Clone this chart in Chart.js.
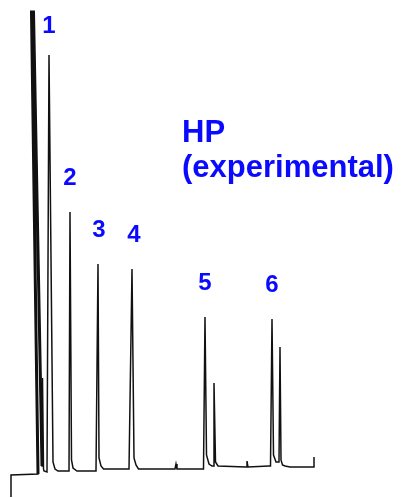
<!DOCTYPE html>
<html>
<head>
<meta charset="utf-8">
<script src="https://cdn.jsdelivr.net/npm/chart.js@4.4.1/dist/chart.umd.min.js"></script>
<style>
  html, body { margin:0; padding:0; background:#fff; }
  #wrap { position:relative; width:405px; height:498px; }
</style>
</head>
<body>
<div id="wrap"><canvas id="chrom"></canvas></div>
<script>
// Detector trace: retention time (min) and response (arb. units above baseline)
const traceTime = [
  1.1, 1.1, 3.8, 3.15, 3.35, 4.1, 4.2, 4.25, 4.35, 4.4, 4.7,
  4.8, 4.9, 5.3, 5.5, 5.8, 6.6, 6.9, 7.0, 7.15, 7.3, 7.7,
  8.0, 9.6, 9.8, 9.9, 10.1, 10.35, 10.9, 12.9, 13.2, 13.4,
  13.6, 13.85, 14.4, 17.5, 17.6, 17.7, 20.2, 20.35, 20.5, 20.65,
  20.9, 21.2, 21.3, 21.4, 21.55, 21.8, 24.6, 24.7, 24.8, 26.9,
  27.05, 27.2, 27.35, 27.6, 27.9, 28.0, 28.1, 28.25, 28.5, 29.0,
  31.4, 31.4
];
const traceSignal = [
  -2.7, -0.5, -0.4, 45.8, 45.8, 6.0, 0.4, 9.2, 0.1, -0.1, -0.2,
  -0.2, 41.5, 0.8, 0.1, -0.1, -0.1, -0.1, 25.8, 1.0, 0.2, -0.1,
  -0.1, -0.1, 20.6, 1.2, 0.4, 0.1, 0.1, 0.1, 20.1, 1.2,
  0.5, 0.1, 0.1, 0.1, 0.6, 0.1, 0.1, 0.1, 15.3, 1.5,
  0.6, 0.4, 0.4, 8.7, 0.8, 0.4, 0.3, 0.9, 0.3, 0.4,
  0.4, 15.1, 1.5, 0.8, 0.8, 12.3, 1.0, 0.5, 0.4, 0.3,
  0.3, 1.3
];

// Solvent front, drawn heavier on top of the trace
const solventTime = [3.8, 3.15, 3.35, 4.1, 4.2];
const solventSignal = [-0.4, 45.8, 45.8, 6.0, 0.4];

// Numbered peaks: apex time and apex response
const peakNames = ['1', '2', '3', '4', '5', '6'];
const peakTime = [4.9, 7.0, 9.9, 13.4, 20.5, 27.2];
const peakSignal = [41.5, 25.8, 20.6, 20.1, 15.3, 15.1];

const titleLines = ['HP', '(experimental)'];

const toXY = (xs, ys) => xs.map((x, i) => ({ x, y: ys[i] }));
const BLUE = '#0a0aff';

// Peak numbers and the title, written over the trace
const peakLabels = {
  id: 'peakLabels',
  afterDatasetsDraw(chart) {
    const { ctx, scales: { x, y }, chartArea } = chart;
    ctx.save();
    ctx.fillStyle = BLUE;
    ctx.textAlign = 'center';
    ctx.textBaseline = 'alphabetic';
    ctx.font = 'bold 24px "Liberation Sans", Arial, sans-serif';
    peakNames.forEach((name, i) => {
      const px = x.getPixelForValue(peakTime[i]);
      const py = Math.max(y.getPixelForValue(peakSignal[i]) - 27, chartArea.top + 33);
      ctx.fillText(name, px, py);
    });
    ctx.textAlign = 'left';
    ctx.font = 'bold 31px "Liberation Sans", Arial, sans-serif';
    ctx.fillText(titleLines[0], chartArea.left + 182, chartArea.top + 142);
    ctx.fillText(titleLines[1], chartArea.left + 182, chartArea.top + 177);
    ctx.restore();
  }
};

new Chart(document.getElementById('chrom'), {
  type: 'scatter',
  data: {
    datasets: [
      { label: 'trace', data: toXY(traceTime, traceSignal), showLine: true,
        borderColor: '#111', borderWidth: 1.5, pointRadius: 0, tension: 0 },
      { label: 'solvent', data: toXY(solventTime, solventSignal), showLine: true,
        borderColor: '#111', borderWidth: 3, pointRadius: 0, tension: 0 }
    ]
  },
  options: {
    responsive: true,
    maintainAspectRatio: false,
    animation: false,
    layout: { padding: 0 },
    scales: {
      x: { type: 'linear', display: false, min: 0, max: 40.5 },
      y: { type: 'linear', display: false, min: -2.8, max: 47 }
    },
    plugins: { legend: { display: false }, tooltip: { enabled: false } }
  },
  plugins: [peakLabels]
});
</script>
</body>
</html>
